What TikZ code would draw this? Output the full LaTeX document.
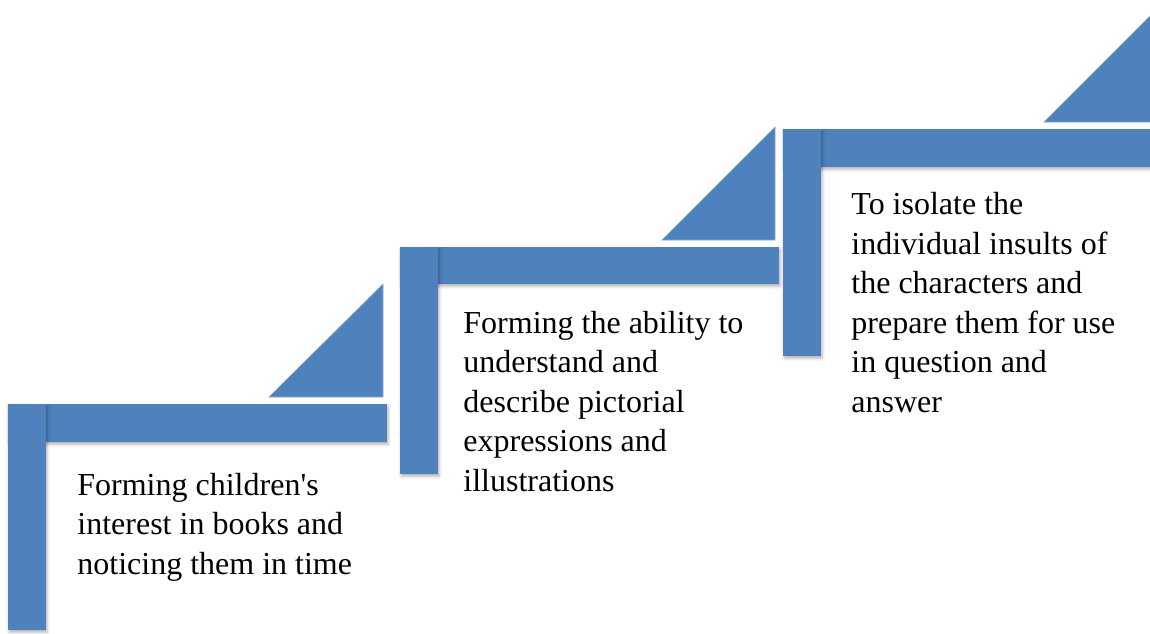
\documentclass[tikz,border=0pt]{standalone}
\usepackage{fontspec}
\setmainfont{Liberation Serif}
\usepackage{xcolor}
\definecolor{stepblue}{HTML}{4F81BD}
\usepackage{tikz}
\usetikzlibrary{positioning}
\usetikzlibrary{shadows.blur}
\tikzset{
  stepbar/.style={fill=stepblue,draw=none,blur shadow={shadow xshift=0.6pt,shadow yshift=-1.2pt,shadow blur radius=1.5pt,shadow opacity=30}},
  steptri/.style={fill=stepblue,draw=stepblue!70!white,line width=0.3pt},
  steptext/.style={align=left,inner sep=0pt,font=\fontsize{16}{19.75}\selectfont}
}

\begin{document}
\begin{tikzpicture}[x=0.5pt,y=-0.5pt]
  \useasboundingbox (0, 0) rectangle (1150, 633);
  % first step
  \fill[stepbar] (8, 404) rectangle (387, 442);
  \fill[stepbar] (8, 404) rectangle (46, 630);
  \draw[steptri] (383, 397) -- (269, 397) -- (383, 284) -- cycle;
  \node[steptext,anchor=base west] (txtA) at (77, 574) {Forming children\textquotesingle s\\interest in books and\\noticing them in time};
  % second step
  \fill[stepbar] (400, 247) rectangle (779, 284);
  \fill[stepbar] (400, 247) rectangle (438, 474);
  \draw[steptri] (775, 240) -- (662, 240) -- (775, 127) -- cycle;
  \node[steptext,anchor=base west] (txtB) at (463, 491) {Forming the ability to\\understand and\\describe pictorial\\expressions and\\illustrations};
  % third step
  \fill[stepbar] (783, 129) rectangle (1162, 167);
  \fill[stepbar] (783, 129) rectangle (821, 356);
  \draw[steptri] (1157, 122) -- (1044, 122) -- (1157, 9) -- cycle;
  \node[steptext,anchor=base west] (txtC) at (851, 412) {To isolate the\\individual insults of\\the characters and\\prepare them for use\\in question and\\answer};
\end{tikzpicture}
\end{document}
